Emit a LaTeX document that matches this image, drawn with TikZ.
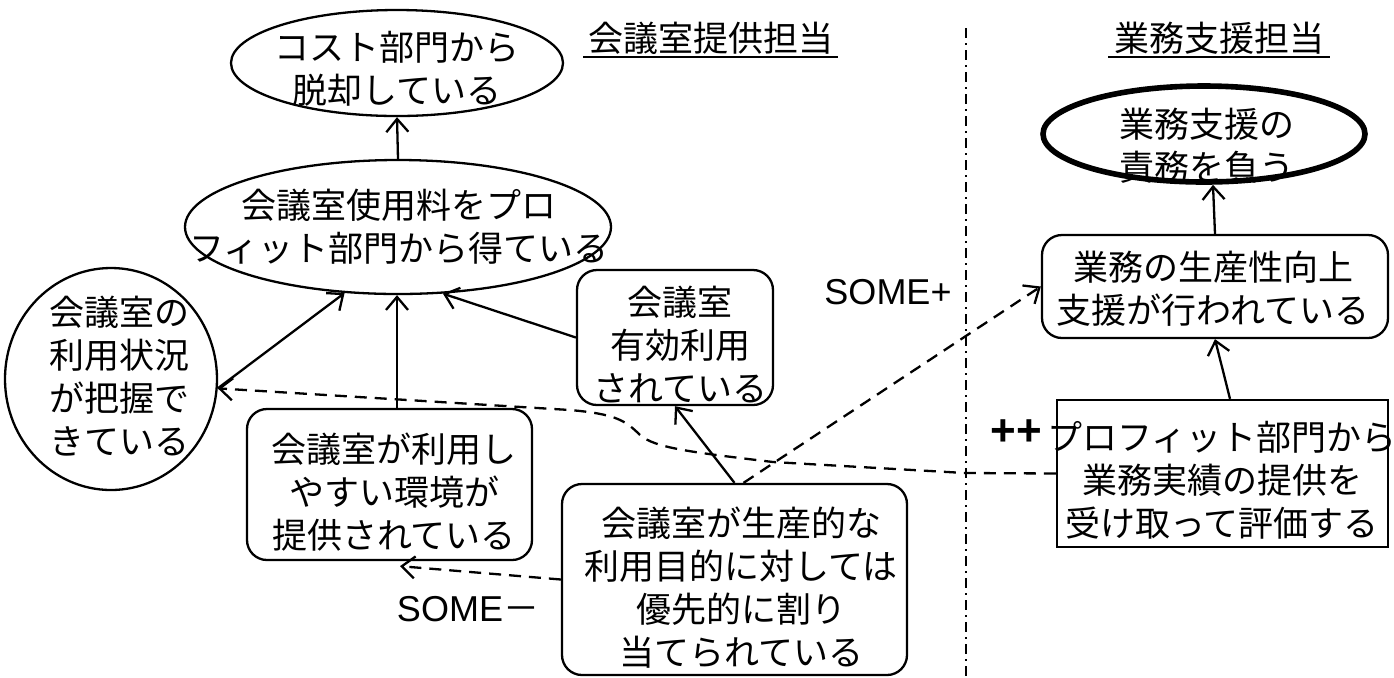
\documentclass[tikz,border=0pt]{standalone}
\usepackage{fontspec}
\setmainfont{Liberation Sans}
\newfontfamily\jp{Noto Sans CJK JP}
\usetikzlibrary{shapes.geometric,arrows.meta}
\begin{document}
\begin{tikzpicture}[x=0.5pt,y=-0.5pt,
 lw/.style={line width=1.15pt},
 ell/.style={ellipse,draw,line width=1.15pt,inner sep=0pt},
 rbox/.style={rectangle,rounded corners=10pt,draw,line width=1.15pt,inner sep=0pt},
 sbox/.style={rectangle,draw,line width=1.15pt,inner sep=0pt},
 txt/.style={font=\jp\fontsize{17.5}{21.5}\selectfont,align=center,inner sep=0pt},
 arr/.style={line width=1.15pt,-{Straight Barb[length=6.5pt,width=11pt]}},
 darr/.style={arr,dash pattern=on 6pt off 4pt},
 divider/.style={line width=1.15pt,dash pattern=on 5pt off 2.5pt on 1pt off 2.5pt},
 lab/.style={font=\fontsize{18}{20}\selectfont,inner sep=0pt}
]
\useasboundingbox (0,0) rectangle (1394,677);
\fill[white] (0,0) rectangle (1394,677);

% shapes
\node[ell,minimum width=166pt,minimum height=53pt] (cost) at (397,63) {};
\node[ell,minimum width=213pt,minimum height=67pt] (fee) at (398,227) {};
\node[ell,minimum width=106pt,minimum height=111pt] (grasp) at (111,379) {};
\node[rbox,minimum width=142.5pt,minimum height=75.5pt] (env) at (389.5,484.5) {};
\node[rbox,minimum width=98pt,minimum height=67.5pt] (eff) at (675,337.5) {};
\node[rbox,minimum width=172.5pt,minimum height=95.5pt] (alloc) at (734.5,579.5) {};
\node[ellipse,draw,line width=2.8pt,inner sep=0pt,minimum width=161pt,minimum height=48pt] (duty) at (1204,134) {};
\node[rbox,minimum width=173pt,minimum height=51.5pt] (prod) at (1215,286.5) {};
\node[sbox,minimum width=165.5pt,minimum height=73.5pt] (eval) at (1222.5,473.5) {};

% texts
\node[txt] (tcost) at (397,69) {コスト部門から\\脱却している};
\node[txt] (tfee) at (399,227) {会議室使用料をプロ\\フィット部門から得ている};
\node[txt] (tgrasp) at (119,376) {会議室の\\利用状況\\が把握で\\きている};
\node[txt] (tenv) at (394,492) {会議室が利用し\\やすい環境が\\提供されている};
\node[txt] (teff) at (680,345) {会議室\\有効利用\\されている};
\node[txt] (talloc) at (741,588) {会議室が生産的な\\利用目的に対しては\\優先的に割り\\当てられている};
\node[txt] (tduty) at (1207,146) {業務支援の\\責務を負う};
\node[txt] (tprod) at (1213,289) {業務の生産性向上\\支援が行われている};
\node[txt] (teval) at (1222,480) {プロフィット部門から\\業務実績の提供を\\受け取って評価する};

% headers
\node[txt] (h1) at (711,38) {会議室提供担当};
\draw[lw] (583,57) -- (838,57);
\node[txt] (h2) at (1219,38) {業務支援担当};
\draw[lw] (1108,57) -- (1330,57);

% divider
\coordinate (dtop) at (966,28);
\coordinate (dbot) at (966,677);
\draw[divider] (dtop) -- (dbot);

% labels
\node[lab] (lplus) at (888,292) {SOME+};
\node[lab] (lminus) at (468,609) {SOME{\jp －}};
\node[lab,font=\bfseries\fontsize{22}{24}\selectfont] (lpp) at (1016,433) {++};

% connectors
\draw[arr] (fee.north) -- (cost.south);
\draw[arr] (grasp.-5) -- (fee.-129);
\draw[arr] ([xshift=3.75pt]env.north) -- ([xshift=3.75pt]env.north |- fee.south);
\draw[arr] (eff.west) -- (fee.-56);
\draw[arr] (alloc.north) -- (eff.south);
\draw[darr] ([xshift=4.5pt]alloc.north) -- (prod.west);
\draw[darr] (alloc.west) -- ([xshift=5.25pt,yshift=-2.5pt]env.south);
\draw[darr] (eval.west) -- (965,473) -- (773,462) .. controls (690,452) and (655,448) .. (640,435) .. controls (625,420) and (615,414) .. (570,410) -- (grasp.-5);
\draw[arr] ([xshift=3.75pt]eval.north) -- (prod.south);
\draw[arr] (prod.north) -- ([xshift=4.5pt]duty.south);
\end{tikzpicture}
\end{document}
